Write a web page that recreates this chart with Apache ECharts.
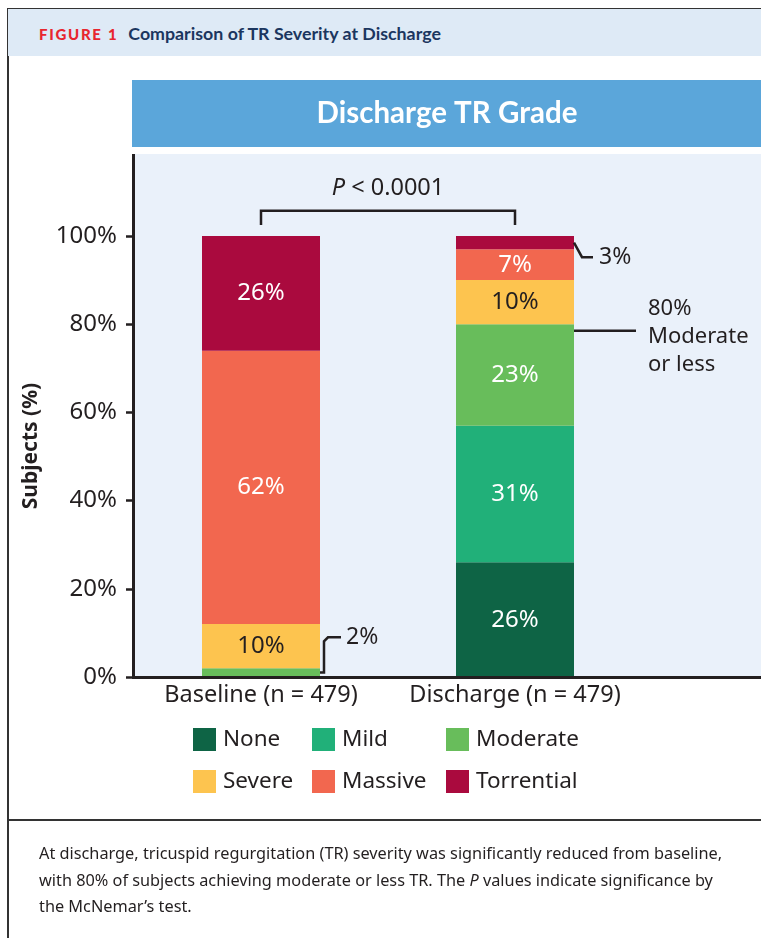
<!DOCTYPE html>
<html>
<head>
	<meta charset="utf-8">
	<title>Comparison of TR Severity at Discharge</title>
	<script src="https://cdn.jsdelivr.net/npm/echarts/dist/echarts.min.js"></script>
	<style>
		html,body{margin:0;padding:0;width:761px;height:938px;background:#fff;overflow:hidden}
		#chart{position:absolute;left:0;top:0;width:761px;height:938px}
		#head{position:absolute;left:7px;top:8px;right:0;height:47px;background:#DEEAF6;border-top:1.5px solid #333;border-left:1.5px solid #333;z-index:2;
			font-family:Lato,"Noto Sans",sans-serif;line-height:49px;padding-left:31px;white-space:nowrap}
		#head .fig{color:#E8262F;font-weight:900;font-size:15px;letter-spacing:1.7px;margin-right:10px}
		#head .ttl{color:#1B365F;font-weight:700;font-size:17.8px}
		#leftline{position:absolute;left:7px;top:8px;width:1.5px;height:930px;background:#333;z-index:2}
		#sep{position:absolute;left:7px;top:819px;right:0;height:1.5px;background:#333;z-index:2}
		#caption{position:absolute;left:39px;top:840px;width:720px;z-index:2;font-family:"Noto Sans",sans-serif;
			font-size:16.3px;line-height:26.5px;color:#231F20;white-space:nowrap}
	</style>
</head>
<body>
	<div id="chart"></div>
	<div id="leftline"></div>
	<div id="head"><span class="fig">FIGURE 1</span><span class="ttl">Comparison of TR Severity at Discharge</span></div>
	<div id="sep"></div>
	<div id="caption">At discharge, tricuspid regurgitation (TR) severity was significantly reduced from baseline,<br>with 80% of subjects achieving moderate or less TR. The <i>P</i> values indicate significance by<br>the McNemar’s test.</div>
<script>
	// data
	var categories = ['Baseline (n = 479)', 'Discharge (n = 479)'];
	var grades = ['None', 'Mild', 'Moderate', 'Severe', 'Massive', 'Torrential'];
	var noneData = [0, 26];
	var mildData = [0, 31];
	var moderateData = [2, 23];
	var severeData = [10, 10];
	var massiveData = [62, 7];
	var torrentialData = [26, 3];
	var pText = '< 0.0001';

	var colors = ['#0E6445', '#21B079', '#68BD5B', '#FDC44F', '#F2674F', '#AA0A3E'];
	var labelColors = ['#fff', '#fff', '#fff', '#231F20', '#fff', '#fff'];
	var font = '"Noto Sans", sans-serif';
	var ink = '#231F20';

	var chart = echarts.init(document.getElementById('chart'));
	var seriesData = [noneData, mildData, moderateData, severeData, massiveData, torrentialData];

	var series = grades.map(function (g, i) {
		return {
			name: g,
			type: 'bar',
			stack: 'tr',
			barWidth: 118,
			data: seriesData[i],
			itemStyle: {color: colors[i]},
			label: {
				show: true,
				position: 'inside',
				color: labelColors[i],
				fontFamily: font,
				fontSize: 24,
				formatter: function (p) { return p.value >= 5 ? p.value + '%' : ''; }
			}
		};
	});

	// six single-item legends to get the 3 x 2 layout
	var legendX = [193, 312, 446];
	var legendY = [728, 770];
	var legends = grades.map(function (g, i) {
		return {
			data: [g],
			left: legendX[i % 3],
			top: legendY[Math.floor(i / 3)],
			padding: 0,
			icon: 'rect',
			itemWidth: 23,
			itemHeight: 23,
			selectedMode: false,
			textStyle: {fontFamily: font, fontSize: 22.5, color: ink, padding: [0, 0, 0, 2]}
		};
	});

	var option = {
		animation: false,
		color: colors,
		grid: {left: 134, width: 508, top: 236, bottom: 261},
		legend: legends,
		xAxis: {
			type: 'category',
			data: categories,
			axisLine: {show: false},
			axisTick: {show: false},
			axisLabel: {interval: 0, fontFamily: font, fontSize: 23.5, color: ink, margin: 6}
		},
		yAxis: {
			type: 'value',
			min: 0,
			max: 100,
			interval: 20,
			splitLine: {show: false},
			axisLine: {show: false},
			axisTick: {show: true, length: 8, lineStyle: {color: ink, width: 2.5}},
			axisLabel: {fontFamily: font, fontSize: 24, color: ink, margin: 17, formatter: '{value}%'}
		},
		graphic: [
			{type: 'rect', z: -10, shape: {x: 132, y: 80, width: 629, height: 67}, style: {fill: '#5BA6DA'}},
			{type: 'text', x: 447, y: 113, style: {text: 'Discharge TR Grade', align: 'center', verticalAlign: 'middle',
				fill: '#fff', font: 'bold 29.5px Lato, sans-serif'}},
			{type: 'rect', z: -10, shape: {x: 134, y: 154, width: 627, height: 523}, style: {fill: '#EAF1FA'}},
			{type: 'line', z: 10, shape: {x1: 133.5, y1: 154, x2: 133.5, y2: 679}, style: {stroke: ink, lineWidth: 3}},
			{type: 'line', z: 10, shape: {x1: 132, y1: 677.5, x2: 761, y2: 677.5}, style: {stroke: ink, lineWidth: 3}},
			{type: 'text', x: 31, y: 446, rotation: Math.PI / 2, style: {text: 'Subjects (%)', align: 'center',
				verticalAlign: 'middle', fill: ink, font: 'bold 21px ' + font}}
		],
		series: series
	};
	chart.setOption(option);

	// annotations placed from the axes
	function px(cat, v) { return chart.convertToPixel({gridIndex: 0}, [cat, v]); }
	var halfBar = 59;
	var b0 = px(0, 0), b1 = px(1, 0);
	var yBr = px(0, 105.7)[1], yBrTick = px(0, 102.5)[1];
	var lineStyle = {stroke: ink, lineWidth: 2.5, fill: null};
	var extra = [];

	// significance bracket
	extra.push({type: 'polyline', z: 10, shape: {points: [[b0[0], yBrTick], [b0[0], yBr], [b1[0], yBr], [b1[0], yBrTick]]}, style: lineStyle});
	extra.push({type: 'text', x: (b0[0] + b1[0]) / 2, y: px(0, 110.8)[1], style: {
		text: '{p|P} ' + pText, align: 'center', verticalAlign: 'middle', fill: ink, font: '23.5px ' + font,
		rich: {p: {fontStyle: 'italic', fontFamily: font, fontSize: 23.5, fill: ink}}}});

	// 3% torrential at discharge
	var tTop = moderateData[1] + noneData[1] + mildData[1] + severeData[1] + massiveData[1];
	var p3a = px(1, tTop + torrentialData[1] / 2);
	var p3b = [b1[0] + halfBar + 8, px(1, 95.2)[1]];
	extra.push({type: 'polyline', z: 10, shape: {points: [[b1[0] + halfBar, p3a[1]], p3b, [p3b[0] + 11, p3b[1]]]}, style: lineStyle});
	extra.push({type: 'text', x: p3b[0] + 17, y: p3b[1], style: {text: torrentialData[1] + '%', verticalAlign: 'middle', fill: ink, font: '23px ' + font}});

	// 2% moderate at baseline
	var p2a = px(0, moderateData[0] / 2);
	var p2y = px(0, 9)[1];
	var xA = b0[0] + halfBar, xV = xA + 4;
	extra.push({type: 'polyline', z: 10, shape: {points: [[xA, p2a[1]], [xV, p2a[1]], [xV, p2y + 4], [xV + 4, p2y], [xV + 17, p2y]]}, style: lineStyle});
	extra.push({type: 'text', x: xV + 22, y: p2y, style: {text: moderateData[0] + '%', verticalAlign: 'middle', fill: ink, font: '23px ' + font}});

	// 80% moderate or less
	var lessSum = noneData[1] + mildData[1] + moderateData[1];
	var y80 = px(1, lessSum - 1.5)[1];
	extra.push({type: 'line', z: 10, shape: {x1: b1[0] + halfBar, y1: y80, x2: b1[0] + halfBar + 62, y2: y80}, style: lineStyle});
	extra.push({type: 'text', x: b1[0] + halfBar + 74, y: y80 + 6, style: {text: lessSum + '%\nModerate\nor less', lineHeight: 28,
		verticalAlign: 'middle', fill: ink, font: '22px ' + font}});

	chart.setOption({graphic: option.graphic.concat(extra)});
</script>
</body>
</html>
